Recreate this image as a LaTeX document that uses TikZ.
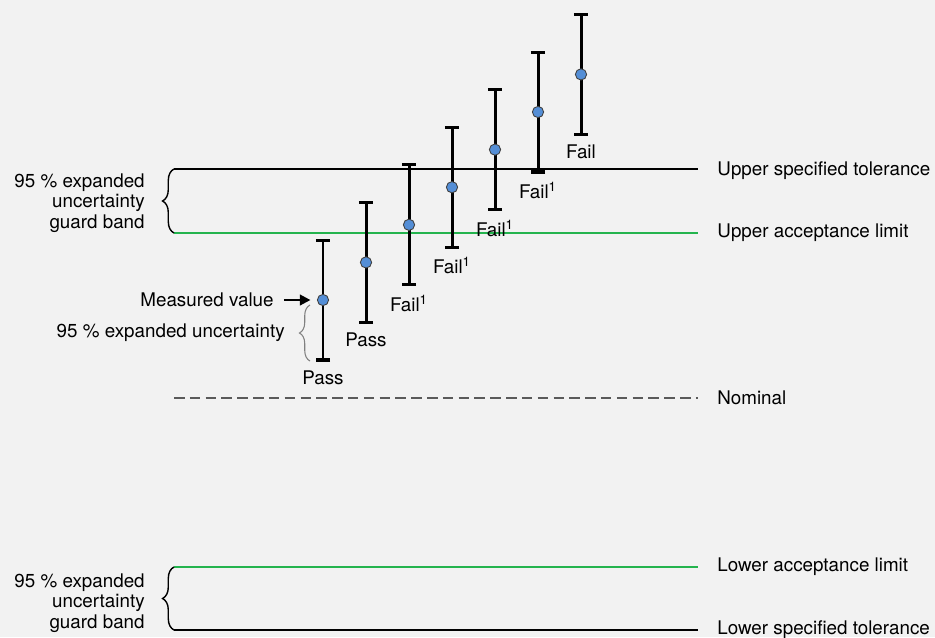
\documentclass[tikz,border=0pt]{standalone}
\usepackage{fontspec}
\setmainfont{TeX Gyre Heros}
\usetikzlibrary{positioning,arrows.meta,decorations.pathreplacing}

\definecolor{bggray}{HTML}{F2F2F2}
\definecolor{limgreen}{RGB}{36,180,78}
\definecolor{dotblue}{RGB}{84,142,214}
\definecolor{nomgray}{RGB}{90,90,90}

\begin{document}
\begin{tikzpicture}[x=0.02cm, y=-0.02cm,
    font=\fontsize{10.7}{11.7}\selectfont,
    lbl/.style={anchor=west, inner sep=0pt},
    bandlbl/.style={anchor=east, align=right, inner sep=0pt},
    tolline/.style={line width=1.1pt, black},
    accline/.style={line width=1.2pt, limgreen},
    errbar/.style={line width=1.7pt, {Bar[width=8pt,line width=1.8pt]}-{Bar[width=8pt,line width=1.8pt]}},
    meas/.style={circle, draw=black!75, line width=0.5pt, fill=dotblue, minimum size=6.4pt, inner sep=0pt},
    gband/.style={decorate, decoration={brace, amplitude=6.5pt}, line width=0.8pt}]
  \fill[bggray] (0,0) rectangle (935,637);
  \useasboundingbox (0,0) rectangle (935,637);

  % limits
  \coordinate (ustL) at (174,169); \coordinate (ustR) at (698,169);
  \coordinate (ualL) at (174,233); \coordinate (ualR) at (698,233);
  \coordinate (nomL) at (174,398); \coordinate (nomR) at (698,398);
  \coordinate (lalL) at (174,567); \coordinate (lalR) at (698,567);
  \coordinate (lstL) at (174,630); \coordinate (lstR) at (698,630);

  \draw[tolline] (ustL) -- (ustR);
  \draw[accline] (ualL) -- (ualR);
  \draw[line width=1.1pt, nomgray, dash pattern=on 6pt off 3pt] (nomL) -- (nomR);
  \draw[accline] (lalL) -- (lalR);
  \draw[tolline] (lstL) -- (lstR);

  \node[lbl, right=0.38cm of ustR, yshift=-1.2pt] (ust) {Upper specified tolerance};
  \node[lbl, right=0.38cm of ualR] (ual) {Upper acceptance limit};
  \node[lbl, right=0.38cm of nomR] (nom) {Nominal};
  \node[lbl, right=0.38cm of lalR] (lal) {Lower acceptance limit};
  \node[lbl, right=0.38cm of lstR] (lst) {Lower specified tolerance};

  % guard bands
  \draw[gband] (ualL) -- (ustL);
  \draw[gband] (lstL) -- (lalL);
  \node[bandlbl] (gbup) at (145,203) {95 \% expanded\\uncertainty\\guard band};
  \node[bandlbl] (gblo) at (145,603) {95 \% expanded\\uncertainty\\guard band};

  % measurements
  \foreach \i/\res in {0/Pass, 1/Pass, 2/Fail\textsuperscript{1}, 3/Fail\textsuperscript{1},
                       4/Fail\textsuperscript{1}, 5/Fail\textsuperscript{1}, 6/Fail} {
    \pgfmathsetmacro\bx{323+43*\i}
    \pgfmathsetmacro\by{300-37.6*\i}
    \coordinate (top\i) at (\bx,\by-61.5);
    \coordinate (bot\i) at (\bx,\by+61.5);
    \draw[errbar] (bot\i) -- (top\i);
    \node[meas] (m\i) at (\bx,\by) {};
    \node[below=1.5pt of bot\i] (res\i) {\res};
  }

  % explanation of one measurement
  \node[left=0.86cm of m0, inner sep=0pt] (mv) {Measured value};
  \draw[line width=1.3pt, -{Triangle[length=6pt,width=6pt]}, shorten <=0.2cm, shorten >=0.13cm] (mv) -- (m0);
  \coordinate (ubot) at (310,361);
  \coordinate (utop) at (310,305);
  \draw[gband, black!50, line width=0.6pt, decoration={amplitude=6pt}] (ubot) -- (utop);
  \node[bandlbl] (unc) at (285,333) {95 \% expanded uncertainty};
\end{tikzpicture}
\end{document}
